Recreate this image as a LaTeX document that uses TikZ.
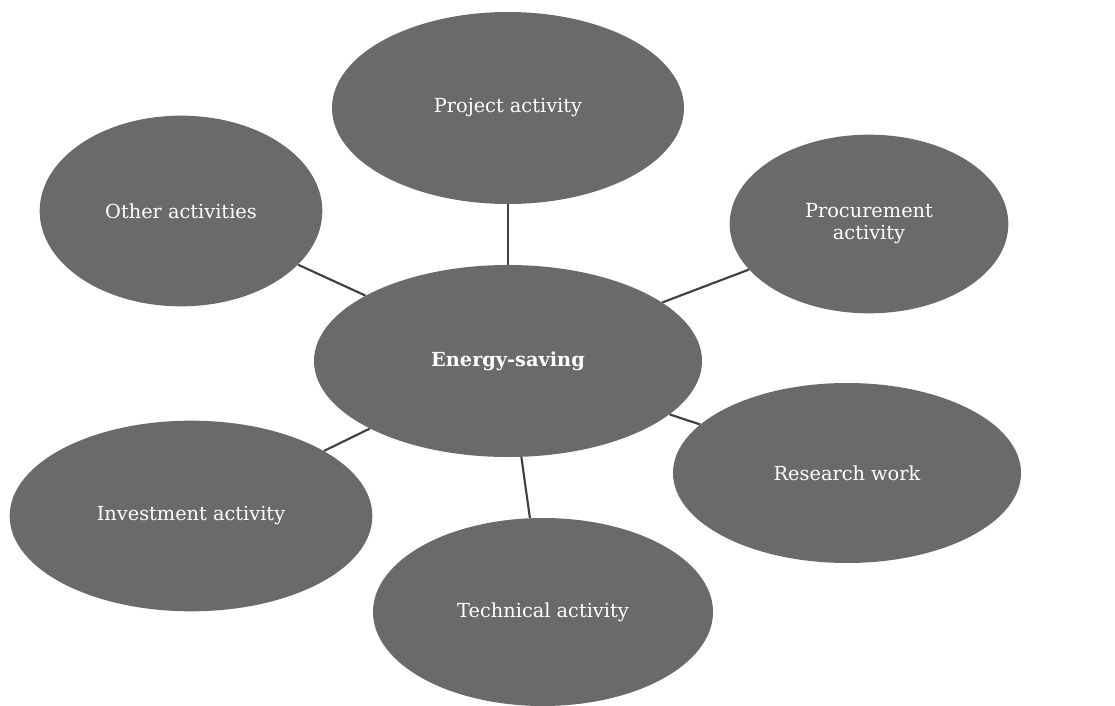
\documentclass[tikz,border=0pt]{standalone}
\usepackage{fontspec}
\setmainfont{DejaVu Serif}
\usetikzlibrary{shapes.geometric}
\definecolor{bubble}{HTML}{6A6A6A}
\definecolor{linkc}{HTML}{404040}
\tikzset{
  bub/.style={ellipse, fill=bubble, draw=none, inner sep=0pt, text=white,
    font=\fontsize{14.5}{16.5}\selectfont, align=center},
  link/.style={draw=linkc, line width=1.6pt}
}
\begin{document}
\begin{tikzpicture}[x=0.75pt,y=-0.75pt]
\useasboundingbox (0,0) rectangle (1115,706);
\fill[white] (0,0) rectangle (1115,706);
\node[bub, minimum width=264pt, minimum height=144pt] (proj) at (508,108) {Project activity};
\node[bub, minimum width=212pt, minimum height=143pt] (other) at (181,211) {Other activities};
\node[bub, minimum width=209pt, minimum height=134pt] (proc) at (869,224) {Procurement\\activity};
\node[bub, minimum width=291pt, minimum height=144pt, font=\fontsize{14.5}{16.5}\selectfont\bfseries] (energy) at (508,361) {Energy-saving};
\node[bub, minimum width=261pt, minimum height=135pt] (res) at (847,473) {Research work};
\node[bub, minimum width=272pt, minimum height=143pt] (inv) at (191,516) {Investment activity};
\node[bub, minimum width=255pt, minimum height=141pt] (tech) at (543,612) {Technical activity};
\draw[link] (proj) -- (energy);
\draw[link] (other) -- (energy);
\draw[link] (proc) -- (energy);
\draw[link] (res) -- (energy);
\draw[link] (inv) -- (energy);
\draw[link] (tech) -- (energy);
\end{tikzpicture}
\end{document}
